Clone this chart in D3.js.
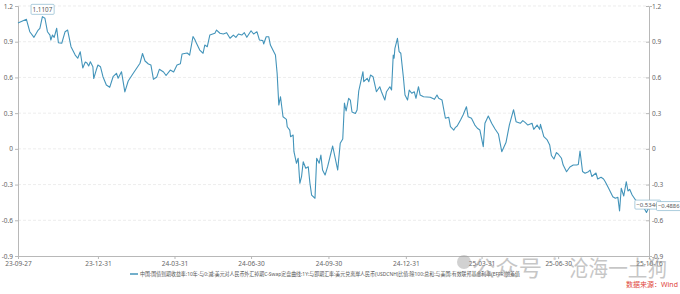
<!DOCTYPE html>
<html><head><meta charset="utf-8">
<script src="https://cdn.jsdelivr.net/npm/d3@7"></script>
<style>html,body{margin:0;padding:0;background:#fff;}svg{display:block;font-family:"Noto Sans","Noto Sans CJK SC",sans-serif;}</style>
</head><body>
<svg id="c" width="680" height="294"></svg>
<script>
const startDate = "2023-09-27";
const endDate = "2025-10-16";
const dayOffsets = [0,10,14,19,24,26,29,32,35,38,39,41,43,46,48,52,56,59,63,68,71,74,77,80,82,84,86,89,90,93,95,98,101,105,109,113,117,119,123,127,131,137,145,148,151,155,158,161,165,168,173,176,181,185,189,193,195,201,204,208,210,212,216,220,222,225,228,234,236,240,244,248,252,256,259,262,266,269,272,277,280,284,287,291,292,295,298,300,304,306,308,310,312,315,319,320,323,324,327,328,331,333,335,337,339,342,345,347,349,353,355,358,360,362,365,368,374,380,383,386,388,390,393,395,397,401,403,405,407,410,411,415,417,419,422,426,430,432,436,438,442,444,446,447,448,451,453,455,458,460,463,465,468,471,473,476,478,482,490,495,498,500,504,508,512,514,518,520,522,526,529,533,535,539,543,546,549,553,555,559,563,567,571,575,580,584,589,592,597,600,603,606,611,613,617,620,621,625,629,632,634,637,640,642,646,648,652,656,660,664,666,668,671,674,678,680,682,687,689,693,696,698,702,707,710,713,715,717,720,723,725,727,730,734,738,742,747,750];
const values = [1.057,1.088,0.984,0.937,0.998,1.013,1.1107,1.097,0.984,0.956,0.914,0.956,0.937,1.013,0.892,0.887,0.984,0.998,0.858,0.788,0.761,0.816,0.679,0.730,0.721,0.696,0.732,0.690,0.591,0.662,0.704,0.690,0.606,0.536,0.517,0.606,0.635,0.593,0.648,0.478,0.570,0.635,0.719,0.801,0.738,0.713,0.704,0.584,0.604,0.668,0.646,0.616,0.662,0.646,0.704,0.715,0.797,0.805,0.788,0.944,0.920,0.889,0.830,0.803,0.872,0.858,0.956,0.971,0.998,0.971,0.965,0.976,0.929,0.956,0.937,0.965,0.956,0.976,0.937,0.992,0.965,0.984,0.914,0.909,0.881,0.942,0.942,0.872,0.816,0.788,0.635,0.368,0.438,0.270,0.248,0.186,0.158,0.102,0.116,-0.024,-0.121,-0.079,-0.289,-0.234,-0.108,-0.163,-0.150,-0.289,-0.388,-0.415,-0.079,-0.121,-0.052,-0.178,-0.220,-0.150,0.024,-0.178,0.047,0.083,0.385,0.318,0.425,0.410,0.310,0.297,0.326,0.486,0.551,0.648,0.564,0.593,0.564,0.620,0.606,0.480,0.522,0.480,0.410,0.480,0.522,0.494,0.788,0.761,0.845,0.928,0.816,0.803,0.606,0.452,0.410,0.494,0.467,0.480,0.425,0.522,0.452,0.438,0.433,0.416,0.452,0.425,0.410,0.257,0.265,0.186,0.158,0.181,0.192,0.242,0.284,0.354,0.270,0.257,0.200,0.173,0.158,0.018,0.215,0.276,0.215,0.167,0.125,-0.024,0.053,0.200,0.329,0.228,0.215,0.237,0.220,0.200,0.215,0.164,0.200,0.164,0.206,0.102,0.075,0.032,-0.056,-0.085,-0.031,-0.043,-0.079,-0.136,-0.192,-0.152,-0.136,-0.136,-0.131,-0.018,-0.190,-0.205,-0.192,-0.178,-0.232,-0.203,-0.253,-0.239,-0.253,-0.276,-0.331,-0.402,-0.415,-0.407,-0.522,-0.331,-0.396,-0.276,-0.354,-0.340,-0.388,-0.430,-0.452,-0.471,-0.5346,-0.4886];
const yTicks = [1.2,0.9,0.6,0.3,0,-0.3,-0.6,-0.9];
const xTickDates = ["2023-09-27","2023-12-31","2024-03-31","2024-06-30","2024-09-30","2024-12-31","2025-03-31","2025-06-30","2025-10-16"];
const seriesName = "中国:国债到期收益率:10年-与0:减:美元对人民币外汇掉期C-Swap定盘曲线:1Y:与即期汇率:美元兑离岸人民币(USDCNH)比值:除100:总和:与美国:有效联邦基金利率(EFFR)的差值";
const sourceText = "数据来源：Wind";
const watermark1 = "公众号";
const watermark2 = "沧海一土狗";

const parse = d3.utcParse("%Y-%m-%d");
const fmt = d3.utcFormat("%y-%m-%d");
const t0 = parse(startDate);
const data = dayOffsets.map((d,i)=>({date:d3.utcDay.offset(t0,d), v:values[i]}));

const L=18, R=649, T=6, B=256;
const svg = d3.select("#c");
const x = d3.scaleUtc().domain([t0, parse(endDate)]).range([L,R]);
const y = d3.scaleLinear().domain([-0.9,1.2]).range([B,T]);
const axisColor="#b8b8b8", txt="#666";

// grid
svg.append("g").selectAll("line").data(yTicks.filter(v=>v>-0.9)).join("line")
  .attr("x1",L).attr("x2",R).attr("y1",d=>y(d)).attr("y2",d=>y(d))
  .attr("stroke","#e4e4e4").attr("stroke-width",0.7).attr("stroke-dasharray","3,2");

// left axis
const la = svg.append("g").attr("transform",`translate(${L},0)`)
  .call(d3.axisLeft(y).tickValues(yTicks).tickSize(3).tickPadding(2).tickFormat(d=>String(d)));
// right axis
const ra = svg.append("g").attr("transform",`translate(${R},0)`)
  .call(d3.axisRight(y).tickValues(yTicks).tickSize(3).tickPadding(2).tickFormat(d=>String(d)));
// bottom axis
const ba = svg.append("g").attr("transform",`translate(0,${B})`)
  .call(d3.axisBottom(x).tickValues(xTickDates.map(parse)).tickSize(3).tickPadding(2).tickFormat(fmt));
[la,ra,ba].forEach(g=>{
  g.select(".domain").attr("stroke",axisColor).attr("stroke-width",1);
  g.selectAll(".tick line").attr("stroke",axisColor);
  g.selectAll(".tick text").attr("fill",txt).attr("font-size",6.5).attr("font-family","Noto Sans, sans-serif");
});
ra.selectAll(".tick line").attr("x2",-3);
ra.selectAll(".tick text").attr("x",3);

// line
const line = d3.line().x(d=>x(d.date)).y(d=>y(d.v));
svg.append("path").datum(data).attr("d",line).attr("fill","none")
  .attr("stroke","#4394ba").attr("stroke-width",1.1).attr("stroke-linejoin","round");

// labels
function box(cx, cy, text, anchor, fs){
  const g = svg.append("g");
  const t = g.append("text").attr("x",cx).attr("y",cy).attr("dy","0.35em")
    .attr("text-anchor",anchor).attr("font-size",fs).attr("fill","#555").text(text);
  const bb = t.node().getBBox();
  g.insert("rect","text").attr("x",bb.x-1.5).attr("y",bb.y-0.5).attr("width",bb.width+3).attr("height",bb.height+1)
    .attr("fill","#fff").attr("stroke","#8ab8cf").attr("stroke-width",0.7).attr("rx",1);
}
const maxD = data.reduce((a,b)=>b.v>a.v?b:a);
const minD = data.reduce((a,b)=>b.v<a.v?b:a);
const lastD = data[data.length-1];
box(x(maxD.date), y(maxD.v)-7, d3.format(".4f")(maxD.v), "middle", 6.3);
box(x(minD.date)+1, y(minD.v)-8, d3.format(".4f")(minD.v), "middle", 6.0);
box(R+9, y(lastD.v)-1, d3.format(".4f")(lastD.v), "start", 5.8);

// legend
svg.append("line").attr("x1",130).attr("x2",138).attr("y1",274).attr("y2",274)
  .attr("stroke","#4394ba").attr("stroke-width",1.5);
svg.append("text").attr("x",140).attr("y",276).attr("font-size",5.4).attr("fill","#555")
  .attr("textLength",380).attr("lengthAdjust","spacingAndGlyphs").text(seriesName);

// watermark
svg.append("circle").attr("cx",464).attr("cy",262).attr("r",7).attr("fill","#999").attr("opacity",0.45);
svg.append("text").attr("x",472).attr("y",276).attr("font-size",22).attr("fill","#999").attr("opacity",0.55)
  .attr("font-family","Noto Sans CJK SC").attr("textLength",70).attr("lengthAdjust","spacingAndGlyphs").text(watermark1);
svg.append("text").attr("x",552).attr("y",266).attr("font-size",20).attr("fill","#999").attr("opacity",0.45).text("·");
svg.append("text").attr("x",569).attr("y",276).attr("font-size",22).attr("fill","#999").attr("opacity",0.55)
  .attr("font-family","Noto Sans CJK SC").attr("textLength",98).attr("lengthAdjust","spacingAndGlyphs").text(watermark2);

// source
svg.append("text").attr("x",678).attr("y",287).attr("text-anchor","end").attr("font-size",7)
  .attr("fill","#e0463c").text(sourceText);
</script>
</body></html>
